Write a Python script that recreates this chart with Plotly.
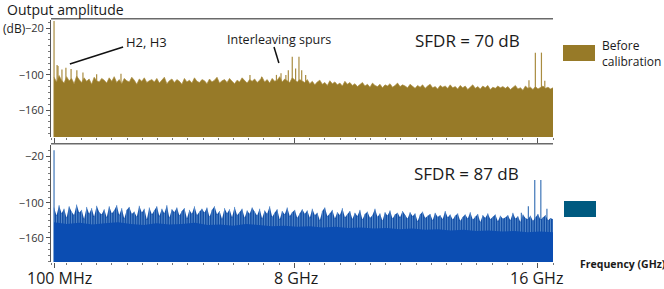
import numpy as np
import plotly.graph_objects as go

# ---------------- data ----------------
F_MIN, F_MAX, N_PTS = 0.1, 16.5, 200   # GHz sampling of the noise envelopes

before_noise_db = [
    -104,-112,-101,-109,-114,-103,-110,-106,-115,-102,-108,-113,-105,-111,-107,-116,-104,-110,-112,-106,
    -109,-114,-105,-111,-103,-113,-108,-115,-106,-110,-112,-104,-109,-116,-107,-111,-105,-113,-110,-108,
    -112,-106,-114,-109,-104,-115,-110,-107,-113,-108,-111,-116,-106,-112,-109,-114,-105,-111,-113,-108,
    -110,-115,-107,-112,-109,-104,-114,-110,-108,-113,-106,-111,-115,-109,-112,-105,-110,-114,-108,-111,
    -107,-113,-109,-104,-112,-108,-114,-106,-111,-109,-103,-112,-107,-110,-113,-105,-109,-112,-108,-111,
    -113,-108,-115,-111,-117,-112,-109,-116,-113,-118,-110,-115,-112,-117,-114,-119,-111,-116,-113,-118,
    -115,-120,-117,-113,-119,-116,-121,-114,-118,-120,-116,-122,-117,-119,-115,-121,-118,-114,-120,-117,
    -119,-122,-116,-120,-123,-118,-121,-117,-123,-119,-116,-122,-120,-124,-118,-121,-119,-123,-117,-122,
    -120,-124,-118,-122,-119,-125,-121,-117,-123,-120,-124,-119,-122,-118,-125,-121,-123,-119,-122,-120,
    -123,-120,-125,-121,-118,-124,-122,-126,-119,-123,-121,-125,-120,-124,-122,-119,-123,-121,-124,-122,
]

before_spur_ghz = [0.1, 0.2, 0.23, 0.36, 0.49, 0.66, 0.85, 1.05, 1.5, 2.3,
                   6.54, 6.92, 7.41, 7.56, 7.72, 7.8, 7.93, 8.04, 8.15, 8.24, 8.37,
                   15.71, 15.92, 16.12, 16.23]
before_spur_db = [-8, -83, -85, -91, -88, -90, -92, -96, -99, -98,
                  -100, -103, -100, -97, -100, -92, -69, -89, -69, -92, -100,
                  -109, -62, -62, -110]

after_noise_db = [
    -108,-122,-104,-118,-110,-126,-106,-115,-121,-103,-117,-112,-128,-107,-119,-109,-124,-105,-116,-120,
    -111,-125,-106,-118,-113,-104,-121,-109,-127,-112,-107,-119,-115,-124,-105,-117,-110,-129,-108,-120,
    -113,-106,-123,-110,-118,-104,-126,-111,-116,-108,-122,-114,-109,-127,-112,-119,-106,-121,-115,-110,
    -117,-108,-124,-112,-106,-120,-114,-128,-109,-118,-111,-125,-107,-121,-116,-110,-126,-113,-119,-108,
    -115,-122,-110,-127,-113,-119,-106,-124,-117,-111,-129,-114,-120,-108,-123,-116,-112,-126,-118,-111,
    -119,-113,-126,-110,-121,-117,-130,-114,-108,-123,-118,-112,-127,-116,-121,-109,-125,-119,-114,-128,
    -117,-123,-112,-129,-119,-115,-126,-121,-110,-124,-118,-131,-116,-122,-113,-127,-120,-117,-125,-114,
    -121,-127,-116,-123,-118,-132,-120,-115,-126,-122,-119,-130,-117,-124,-121,-128,-114,-125,-120,-129,
    -122,-118,-131,-124,-120,-127,-116,-129,-123,-119,-133,-121,-126,-118,-128,-124,-120,-132,-122,-127,
    -125,-121,-130,-117,-127,-123,-133,-120,-126,-128,-122,-131,-124,-119,-129,-125,-121,-130,-126,-128,
]

after_floor_db = [
    -133,-136,-134,-137,-135,-133,-136,-138,-135,-137,-136,-134,-138,-137,-139,-136,-138,-140,-139,-141,
    -140,-142,-141,-143,-142,-144,-143,-145,-144,-146,-145,-147,-146,-148,-147,-149,-148,-150,-149,-150,
]

after_spur_ghz = [0.1, 15.46, 15.69, 15.9, 16.1, 16.3]
after_spur_db = [-10, -117, -106, -61, -61, -110]

x_tick_vals = [0.1, 8, 16]
x_tick_text = ["100 MHz", "8 GHz", "16 GHz"]
y_tick_vals = [-20, -100, -160]

BASE = -215  # bottom of the filled spectra (below axis range)

# ---------------- styles ----------------
FONT = "Open Sans"
BROWN = "#977a28"
BROWN_TIP = "#a98c40"
BLUE_BODY = "#0b4db2"
BLUE_ENV = "#124ea6"
BLUE_TIP = "#5f92d0"
BLUE_SPUR = "#3f76b8"
LEG_BLUE = "#005a80"

freq = np.linspace(F_MIN, F_MAX, N_PTS)
freq_floor = np.linspace(F_MIN, F_MAX, len(after_floor_db))


def needle_xy(fs, dbs):
    xs, ys = [], []
    for f, d in zip(fs, dbs):
        xs += [f, f, None]
        ys += [BASE, d, None]
    return xs, ys


fig = go.Figure()

# top panel: before calibration (spurs first, noise fill drawn over their feet)
sx, sy = needle_xy(before_spur_ghz, before_spur_db)
fig.add_trace(go.Scatter(x=sx, y=sy, mode="lines", line=dict(width=1.2, color=BROWN_TIP),
                         showlegend=False, xaxis="x", yaxis="y"))
fig.add_trace(go.Scatter(x=freq, y=[BASE] * len(freq), mode="lines",
                         line=dict(width=0, color=BROWN), hoverinfo="skip",
                         showlegend=False, xaxis="x", yaxis="y"))
fig.add_trace(go.Scatter(x=freq, y=before_noise_db, mode="lines", fill="tonexty",
                         fillcolor=BROWN, line=dict(width=0.7, color=BROWN_TIP),
                         showlegend=False, xaxis="x", yaxis="y"))

# bottom panel: after calibration
sx, sy = needle_xy(after_spur_ghz, after_spur_db)
fig.add_trace(go.Scatter(x=sx, y=sy, mode="lines", line=dict(width=1.2, color=BLUE_SPUR),
                         showlegend=False, xaxis="x2", yaxis="y2"))
fig.add_trace(go.Scatter(x=freq, y=[BASE] * len(freq), mode="lines",
                         line=dict(width=0, color=BLUE_ENV), hoverinfo="skip",
                         showlegend=False, xaxis="x2", yaxis="y2"))
fig.add_trace(go.Scatter(x=freq, y=after_noise_db, mode="lines", fill="tonexty",
                         fillcolor=BLUE_ENV, line=dict(width=0, color=BLUE_ENV),
                         showlegend=False, xaxis="x2", yaxis="y2"))
nx, ny = needle_xy(freq, after_noise_db)
fig.add_trace(go.Scatter(x=nx, y=ny, mode="lines", line=dict(width=0.9, color=BLUE_TIP),
                         showlegend=False, xaxis="x2", yaxis="y2"))
fig.add_trace(go.Scatter(x=freq_floor, y=[BASE] * len(freq_floor), mode="lines",
                         line=dict(width=0, color=BLUE_BODY), hoverinfo="skip",
                         showlegend=False, xaxis="x2", yaxis="y2"))
fig.add_trace(go.Scatter(x=freq_floor, y=after_floor_db, mode="lines", fill="tonexty",
                         fillcolor=BLUE_BODY, line=dict(width=0, color=BLUE_BODY),
                         showlegend=False, xaxis="x2", yaxis="y2"))

xaxis_common = dict(range=[0, 16.5], showgrid=False, zeroline=False, showline=False,
                    tickmode="array", tickvals=x_tick_vals, showticklabels=False,
                    ticks="outside", ticklen=5, tickcolor="#555", tickwidth=1,
                    minor=dict(dtick=0.5, tick0=0, ticks="outside", ticklen=2,
                               tickcolor="#777"),
                    automargin=False, fixedrange=True)
yaxis_common = dict(showgrid=False, zeroline=False, showline=True, linecolor="#555",
                    linewidth=1, tickmode="array", tickvals=y_tick_vals,
                    ticks="outside", ticklen=4, tickcolor="#555",
                    tickfont=dict(family=FONT, size=11, color="#333"),
                    minor=dict(dtick=10, tick0=0, ticks="outside", ticklen=2,
                               tickcolor="#777"),
                    automargin=False, fixedrange=True)

TOP_DOM = [1 - 137 / 289, 1 - 20 / 289]
BOT_DOM = [1 - 262 / 289, 1 - 145 / 289]

fig.update_layout(
    width=664, height=289,
    margin=dict(l=51, r=111, t=0, b=0),
    paper_bgcolor="white", plot_bgcolor="white",
    showlegend=False,
    xaxis=dict(xaxis_common, domain=[0, 1], anchor="y"),
    yaxis=dict(yaxis_common, domain=TOP_DOM, range=[-206, -6.3], anchor="x"),
    xaxis2=dict(xaxis_common, domain=[0, 1], anchor="y2"),
    yaxis2=dict(yaxis_common, domain=BOT_DOM, range=[-201, -1.2], anchor="x2"),
    font=dict(family=FONT, color="#222"),
)

# panel top border lines
for yref in ["y domain", "y2 domain"]:
    fig.add_shape(type="line", xref="x domain", yref=yref, x0=0, x1=1, y0=1.01, y1=1.01,
                  line=dict(color="#6a6a6a", width=1.5))

# pointer lines
fig.add_shape(type="line", xref="x", yref="y", x0=0.62, y0=-81.5, x1=2.37, y1=-52.4,
              line=dict(color="#111", width=1.5))
fig.add_shape(type="line", xref="x", yref="y", x0=7.33, y0=-52.4, x1=7.49, y1=-79.8,
              line=dict(color="#111", width=1.5))

# legend swatches
fig.add_shape(type="rect", xref="paper", yref="paper", x0=(563 - 51) / 502, x1=(595 - 51) / 502,
              y0=1 - 61 / 289, y1=1 - 45 / 289, fillcolor=BROWN, line=dict(width=0))
fig.add_shape(type="rect", xref="paper", yref="paper", x0=(564 - 51) / 502, x1=(596 - 51) / 502,
              y0=1 - 217 / 289, y1=1 - 201 / 289, fillcolor=LEG_BLUE, line=dict(width=0))


def px(xp):
    return (xp - 51) / 502


def py(yp):
    return 1 - yp / 289


def ann(text, x, y, size, xanchor="center", align="center", bold=False):
    fig.add_annotation(text=f"<b>{text}</b>" if bold else text, xref="paper", yref="paper",
                       x=px(x), y=py(y), xanchor=xanchor, yanchor="middle", align=align,
                       showarrow=False, font=dict(family=FONT, size=size, color="#1a1a1a"))


ann("Output amplitude", 5, 10, 14, xanchor="left")
ann("(dB)", 1, 28, 12, xanchor="left")
ann("H2, H3", 124, 42, 13, xanchor="left")
ann("Interleaving spurs", 279, 39, 12.5)
ann("SFDR = 70 dB", 467, 40, 17)
ann("SFDR = 87 dB", 466, 173, 17)
ann("Before<br>calibration", 600, 53, 12, xanchor="left", align="left")
ann("Frequency (GHz)", 578, 264, 10.5, xanchor="left", bold=True)

label_px = [59, 296, 536]
for t, xp in zip(x_tick_text, label_px):
    ann(t, xp, 278, 16)

fig.write_html("out.html", config={"displayModeBar": False},
               post_script="document.body.style.margin='0px';")
